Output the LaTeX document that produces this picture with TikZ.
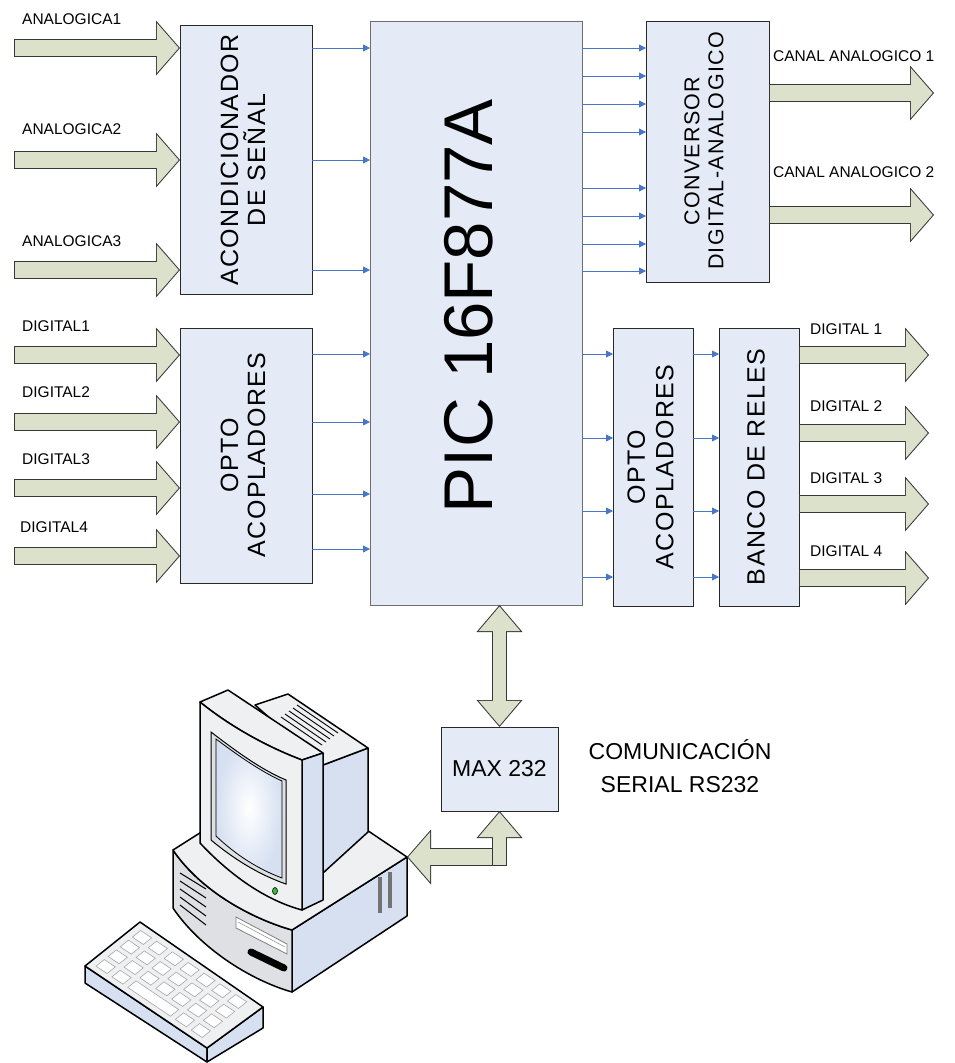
\documentclass[tikz,border=0pt]{standalone}
\usepackage{fontspec}
\setmainfont{Liberation Sans}
\newfontfamily\boxfont[LetterSpace=6]{Liberation Sans}
\usetikzlibrary{arrows.meta,calc}

\definecolor{boxfill}{RGB}{228,235,247}
\definecolor{boxedge}{RGB}{40,40,40}
\definecolor{picedge}{RGB}{110,110,110}
\definecolor{khaki}{RGB}{220,225,203}
\definecolor{arredge}{RGB}{55,55,55}
\definecolor{sigblue}{RGB}{72,118,198}
\definecolor{pcgray}{RGB}{238,240,242}
\definecolor{pcfront}{RGB}{222,224,227}
\definecolor{pcside}{RGB}{214,224,241}

\tikzset{
  % outlined block arrows: dark tip underneath, khaki tip on top
  fatout/.tip={Triangle[width=55pt,length=24pt,line width=0pt]},
  fatin/.tip={Triangle[width=49.7pt,length=21.7pt,line width=0pt]},
  busout/.tip={Triangle[width=46pt,length=27pt,line width=0pt]},
  busin/.tip={Triangle[width=41.7pt,length=24.5pt,line width=0pt]},
  fatarrow/.style={draw=khaki, line width=16pt, -{fatin},
    shorten <=1pt, shorten >=1.33pt,
    preaction={draw=arredge, line width=18pt, -{fatout}, shorten <=0pt, shorten >=0pt}},
  busarrow/.style={draw=khaki, line width=13pt, {busin}-{busin},
    shorten <=1.54pt, shorten >=1.54pt,
    preaction={draw=arredge, line width=15pt, {busout}-{busout}, shorten <=0pt, shorten >=0pt}},
  upbus/.style={draw=khaki, line width=13pt, -{busin},
    shorten <=1pt, shorten >=1.54pt,
    preaction={draw=arredge, line width=15pt, -{busout}, shorten <=0pt, shorten >=0pt}},
  sig/.style={draw=sigblue, line width=0.8pt, -{Triangle[width=7pt,length=7pt]}},
  blk/.style={draw=boxedge, fill=boxfill, line width=0.9pt, inner sep=0pt, outer sep=0pt, anchor=north west},
  boxtxt/.style={font=\boxfont\fontsize{25}{27}\selectfont, align=center, inner sep=0pt, rotate=90},
  lbl/.style={font=\fontsize{15.5}{18}\selectfont, inner sep=0pt, anchor=west},
  pc/.style={draw=black, line width=1.5pt, line join=round},
  key/.style={fill=white, draw=black!35, line width=0.6pt}
}

\begin{document}
\begin{tikzpicture}[x=1pt,y=-1pt]
\useasboundingbox (0,0) rectangle (954,1063);

% blocks
\node[blk, minimum width=132, minimum height=269] (acond) at (180,25) {};
\node[blk, draw=picedge, minimum width=212, minimum height=584] (pic) at (370,21) {};
\node[blk, minimum width=123, minimum height=261] (dac) at (646,21) {};
\node[blk, minimum width=132, minimum height=255] (optoin) at (180,328) {};
\node[blk, minimum width=80, minimum height=278] (optoout) at (613,328) {};
\node[blk, minimum width=80, minimum height=278] (relay) at (719,328) {};
\node[blk, minimum width=117, minimum height=84] (max) at (441,727) {};

\node[boxtxt] (acondtxt) at (243,160) {ACONDICIONADOR\\DE SEÑAL};
\node[boxtxt] (optointxt) at (243,455) {OPTO\\ACOPLADORES};
\node[boxtxt, font=\boxfont\fontsize{21.5}{24}\selectfont] (dactxt) at (704,151) {CONVERSOR\\DIGITAL-ANALOGICO};
\node[boxtxt, font=\boxfont\fontsize{25}{28.5}\selectfont] (optoouttxt) at (650.5,467) {OPTO\\ACOPLADORES};
\node[boxtxt] (relaytxt) at (756,467) {BANCO DE RELES};
\node[font=\fontsize{69}{69}\selectfont, rotate=90, inner sep=0pt] (pictxt) at (469,306) {PIC 16F877A};
\node[font=\fontsize{23}{26}\selectfont, inner sep=0pt] (maxtxt) at (max) {MAX 232};
\node[font=\fontsize{23}{33}\selectfont, align=center, inner sep=0pt] (rs232) at (680,766) {COMUNICACIÓN\\SERIAL RS232};

% analog and digital inputs
\foreach \y [count=\n] in {48,160,270} {
  \coordinate (ain\n) at (14,\y);
  \draw[fatarrow] (ain\n) -- (acond.west |- ain\n);
}
\foreach \y [count=\n] in {355,422,488,556} {
  \coordinate (din\n) at (14,\y);
  \draw[fatarrow] (din\n) -- (optoin.west |- din\n);
}
\node[lbl] (la1) at (22,19.5) {ANALOGICA1};
\node[lbl] (la2) at (22,129.5) {ANALOGICA2};
\node[lbl] (la3) at (22,241) {ANALOGICA3};
\node[lbl] (ld1) at (22,326) {DIGITAL1};
\node[lbl] (ld2) at (22,392) {DIGITAL2};
\node[lbl] (ld3) at (22,459.5) {DIGITAL3};
\node[lbl] (ld4) at (20,527) {DIGITAL4};

% outputs
\foreach \y [count=\n] in {93,215} {
  \coordinate (aout\n) at (934,\y);
  \draw[fatarrow] (dac.east |- aout\n) -- (aout\n);
}
\foreach \y [count=\n] in {355,433,504,578} {
  \coordinate (dout\n) at (929,\y);
  \draw[fatarrow] (relay.east |- dout\n) -- (dout\n);
}
\node[lbl] (lc1) at (773,56) {CANAL ANALOGICO 1};
\node[lbl] (lc2) at (773,172.5) {CANAL ANALOGICO 2};
\node[lbl] (lr1) at (810,329) {DIGITAL 1};
\node[lbl] (lr2) at (810,406) {DIGITAL 2};
\node[lbl] (lr3) at (810,478) {DIGITAL 3};
\node[lbl] (lr4) at (810,551) {DIGITAL 4};

% signal lines
\foreach \y in {48,160,270}
  \draw[sig] (acond.east |- 0,\y) -- (pic.west |- 0,\y);
\foreach \y in {354,422,494,549}
  \draw[sig] (optoin.east |- 0,\y) -- (pic.west |- 0,\y);
\foreach \y in {48,76,104,132,188,216,244,271}
  \draw[sig] (pic.east |- 0,\y) -- (dac.west |- 0,\y);
\foreach \y in {354,438,511,577} {
  \draw[sig] (pic.east |- 0,\y) -- (optoout.west |- 0,\y);
  \draw[sig] (optoout.east |- 0,\y) -- (relay.west |- 0,\y);
}

% computer: base unit
\draw[pc, fill=pcside] (292,930) -- (407,857) -- (407,916) -- (292,992) -- cycle;
\draw[pc, fill=pcfront] (173,850) .. controls (200,890) and (250,918) .. (292,930)
  -- (292,992) .. controls (250,980) and (200,948) .. (173,908) -- cycle;
\draw[pc, fill=pcgray] (173,850) -- (288,777) -- (407,857) -- (292,930)
  .. controls (250,918) and (200,890) .. (173,850) -- cycle;
\foreach \k in {0,...,4}
  \draw[line width=1pt] (180,873+8*\k) -- (206,889+9*\k);
\draw[line width=0.8pt, draw=black!50, fill=white] (236,917) -- (287,944) -- (287,954) -- (236,928) -- cycle;
\draw[line width=0.6pt, draw=black!40] (238,922) -- (285,947);
\draw[line width=7pt, line cap=round] (251,952) -- (284,968);
\fill[black!55] (378,877) rectangle (382,913);
\fill[black!55] (388,872) rectangle (392,908);

% computer: monitor housing
\draw[pc, fill=pcside] (323,765) -- (368,748) -- (368,832) -- (323,873) -- cycle;
\draw[pc, fill=pcgray] (255,705) -- (288,694) -- (368,748) -- (323,765) -- cycle;
\foreach \k in {0,...,4}
  \draw[line width=0.9pt] (281+4*\k,717-3*\k) -- (322+4*\k,745-3*\k);

% computer: monitor bezel and screen
\draw[pc, fill=pcgray] (200,702) -- (228,690) -- (323,753) -- (302,760)
  .. controls (270,748) and (232,728) .. (200,702) -- cycle;
\draw[pc, fill=pcside] (302,760) -- (323,753) -- (323,900) -- (302,910) -- cycle;
\draw[pc, fill=pcgray] (200,702) .. controls (232,728) and (270,748) .. (302,760)
  -- (302,910) .. controls (265,900) and (230,875) .. (200,843) -- cycle;
\draw[line width=1pt, fill=pcfront] (211,732) .. controls (237,752) and (262,770) .. (286,780)
  -- (286,884) .. controls (260,875) and (235,860) .. (211,840) -- cycle;
\shadedraw[inner color=white, outer color=pcside, draw=black, line width=0.8pt]
  (216,739) .. controls (240,757) and (262,772) .. (282,781)
  -- (282,878) .. controls (258,869) and (236,855) .. (216,836) -- cycle;
\filldraw[fill=green!70!black!80, draw=black, line width=0.6pt] (275,891) ellipse (2.5pt and 3.5pt);

% computer: keyboard
\draw[pc, fill=pcside] (85,966) -- (207,1048) -- (207,1062) -- (85,983) -- cycle;
\draw[pc, fill=pcside] (207,1048) -- (263,1007) -- (263,1028) -- (207,1062) -- cycle;
\draw[pc, fill=pcgray] (85,966) -- (140,922) -- (263,1007) -- (207,1048) -- cycle;
\begin{scope}[shift={(85,966)}, x={(55pt,44pt)}, y={(122pt,-82pt)}]
  \foreach \i in {1,2,3}
    \foreach \j in {0,...,6}
      \draw[key] ({0.09+0.22*\i},{0.05+0.13*\j}) -- ++(0.15,0) -- ++(0,0.09) -- ++(-0.15,0) -- cycle;
  \foreach \j in {0,1,5,6}
    \draw[key] (0.09,{0.05+0.13*\j}) -- ++(0.15,0) -- ++(0,0.09) -- ++(-0.15,0) -- cycle;
  \draw[key] (0.09,0.31) -- ++(0.15,0) -- ++(0,0.35) -- ++(-0.15,0) -- cycle;
\end{scope}

% serial link
\draw[busarrow] (max.north |- pic.south) -- (max.north);
\coordinate (pcport) at (407,857);
\coordinate (lbend) at ($(max.south)+(0,46)$);
\coordinate (ltail) at ($(max.south)+(0,55)$);
\draw[fatarrow] (lbend) -- (pcport);
\draw[upbus] (ltail) -- (max.south);
\end{tikzpicture}
\end{document}
